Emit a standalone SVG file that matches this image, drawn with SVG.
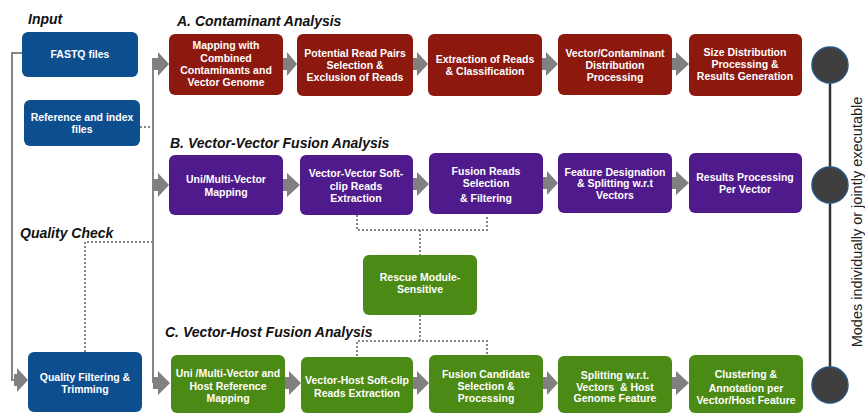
<svg xmlns="http://www.w3.org/2000/svg" width="865" height="413" viewBox="0 0 865 413">
<defs>
<style>
.blue{fill:#0d4e8f}
.red{fill:#8c180e}
.pur{fill:#4f1a8c}
.grn{fill:#4b8a14}
.bt{font-family:"Liberation Sans",Arial,sans-serif;font-weight:bold;font-size:10.5px;fill:#fff;text-anchor:middle}
.title{font-family:"Liberation Sans",Arial,sans-serif;font-weight:bold;font-style:italic;font-size:14px;fill:#111}
.ln{fill:none;stroke:#858585;stroke-width:2}
.dot{fill:none;stroke:#858585;stroke-width:2;stroke-dasharray:2 2}
.arr{fill:#808080}
.circ{fill:#3f3f3f;stroke:#2a5480;stroke-width:1.5}
</style>
</defs>
<rect width="865" height="413" fill="#fff"/>

<text class="title" x="28" y="24">Input</text>
<text class="title" x="177" y="26">A. Contaminant Analysis</text>
<text class="title" x="170" y="148">B. Vector-Vector Fusion Analysis</text>
<text class="title" x="20" y="238">Quality Check</text>
<text class="title" x="165" y="337">C. Vector-Host Fusion Analysis</text>

<g id="connectors">
<polyline class="ln" points="22,53 12,53 12,380 16,380"/>
<polygon class="arr" points="14,374 17,374 17,368 28,380 17,392 17,386 14,386"/>
<line class="ln" x1="153" y1="58" x2="153" y2="383"/>
<polygon class="arr" points="153,58 158,58 158,52 169,64 158,76 158,70 153,70"/>
<polygon class="arr" points="153,179 158,179 158,173 169,185 158,197 158,191 153,191"/>
<polygon class="arr" points="153,377 158,377 158,371 170,383 158,395 158,389 153,389"/>
<line class="dot" x1="140" y1="127" x2="153" y2="127"/>
<polyline class="dot" points="153,242 85,242 85,352"/>
<polygon class="arr" points="283,58 287,58 287,52 297,64 287,76 287,70 283,70"/>
<polygon class="arr" points="413,58 417,58 417,52 428,64 417,76 417,70 413,70"/>
<polygon class="arr" points="542,58 546,58 546,52 558,64 546,76 546,70 542,70"/>
<polygon class="arr" points="672,58 676,58 676,52 689,64 676,76 676,70 672,70"/>
<polygon class="arr" points="283,179 287,179 287,173 300,185 287,197 287,191 283,191"/>
<polygon class="arr" points="413,178 417,178 417,172 429,184 417,196 417,190 413,190"/>
<polygon class="arr" points="543,177 547,177 547,171 558,183 547,195 547,189 543,189"/>
<polygon class="arr" points="672,177 676,177 676,171 689,183 676,195 676,189 672,189"/>
<polygon class="arr" points="285,377 289,377 289,371 301,383 289,395 289,389 285,389"/>
<polygon class="arr" points="413,377 417,377 417,371 429,383 417,395 417,389 413,389"/>
<polygon class="arr" points="543,377 547,377 547,371 558,383 547,395 547,389 543,389"/>
<polygon class="arr" points="672,377 676,377 676,371 689,383 676,395 676,389 672,389"/>
<polyline class="dot" points="357,215 357,230 487,230 487,215"/>
<line class="dot" x1="420" y1="230" x2="420" y2="255"/>
<line class="dot" x1="420" y1="315" x2="420" y2="341"/>
<polyline class="dot" points="357,356 357,341 487,341 487,355"/>
<line x1="830" y1="65" x2="830" y2="385" stroke="#333" stroke-width="2.5"/>
</g>

<g id="fastq"><rect class="blue" x="22" y="32" width="116" height="45" rx="6"/><text class="bt" x="80" y="58">FASTQ files</text></g>
<g id="reference"><rect class="blue" x="24" y="100" width="116" height="46" rx="6"/><text class="bt" x="82" y="121">Reference and index</text><text class="bt" x="82" y="133">files</text></g>
<g id="quality"><rect class="blue" x="28" y="352" width="114" height="60" rx="6"/><text class="bt" x="85" y="381">Quality Filtering &amp;</text><text class="bt" x="85" y="393">Trimming</text></g>

<g id="a1"><rect class="red" x="169" y="34" width="114" height="61" rx="6"/><text class="bt" x="226" y="49">Mapping with</text><text class="bt" x="226" y="61.5">Combined</text><text class="bt" x="226" y="74">Contaminants and</text><text class="bt" x="226" y="86">Vector Genome</text></g>
<g id="a2"><rect class="red" x="297" y="34" width="116" height="62" rx="6"/><text class="bt" x="355" y="57">Potential Read Pairs</text><text class="bt" x="355" y="69">Selection &amp;</text><text class="bt" x="355" y="81">Exclusion of Reads</text></g>
<g id="a3"><rect class="red" x="428" y="34" width="114" height="62" rx="6"/><text class="bt" x="485" y="63">Extraction of Reads</text><text class="bt" x="485" y="75">&amp; Classification</text></g>
<g id="a4"><rect class="red" x="558" y="34" width="114" height="61" rx="6"/><text class="bt" x="615" y="57">Vector/Contaminant</text><text class="bt" x="615" y="69">Distribution</text><text class="bt" x="615" y="81">Processing</text></g>
<g id="a5"><rect class="red" x="689" y="34" width="113" height="62" rx="6"/><text class="bt" x="745" y="56">Size Distribution</text><text class="bt" x="745" y="68">Processing &amp;</text><text class="bt" x="745" y="80">Results Generation</text></g>

<g id="b1"><rect class="pur" x="169" y="155" width="114" height="60" rx="6"/><text class="bt" x="226" y="183">Uni/Multi-Vector</text><text class="bt" x="226" y="196">Mapping</text></g>
<g id="b2"><rect class="pur" x="300" y="155" width="113" height="60" rx="6"/><text class="bt" x="356" y="177">Vector-Vector Soft-</text><text class="bt" x="356" y="190">clip Reads</text><text class="bt" x="356" y="202">Extraction</text></g>
<g id="b3"><rect class="pur" x="429" y="153" width="114" height="61" rx="6"/><text class="bt" x="486" y="175">Fusion Reads</text><text class="bt" x="486" y="187">Selection</text><text class="bt" x="486" y="202">&amp; Filtering</text></g>
<g id="b4"><rect class="pur" x="558" y="153" width="114" height="60" rx="6"/><text class="bt" x="615" y="176">Feature Designation</text><text class="bt" x="615" y="187">&amp; Splitting w.r.t</text><text class="bt" x="615" y="199">Vectors</text></g>
<g id="b5"><rect class="pur" x="689" y="153" width="113" height="60" rx="6"/><text class="bt" x="745" y="181">Results Processing</text><text class="bt" x="745" y="193">Per Vector</text></g>

<g id="rescue"><rect class="grn" x="363" y="255" width="114" height="60" rx="6"/><text class="bt" x="420" y="281">Rescue Module-</text><text class="bt" x="420" y="293">Sensitive</text></g>

<g id="c1"><rect class="grn" x="171" y="355" width="114" height="58" rx="6"/><text class="bt" x="228" y="377">Uni /Multi-Vector and</text><text class="bt" x="228" y="390">Host Reference</text><text class="bt" x="228" y="402">Mapping</text></g>
<g id="c2"><rect class="grn" x="301" y="357" width="112" height="56" rx="6"/><text class="bt" x="357" y="384">Vector-Host Soft-clip</text><text class="bt" x="357" y="397">Reads Extraction</text></g>
<g id="c3"><rect class="grn" x="429" y="355" width="114" height="58" rx="6"/><text class="bt" x="486" y="378">Fusion Candidate</text><text class="bt" x="486" y="390">Selection &amp;</text><text class="bt" x="486" y="402">Processing</text></g>
<g id="c4"><rect class="grn" x="558" y="356" width="114" height="57" rx="6"/><text class="bt" x="615" y="379">Splitting w.r.t.</text><text class="bt" x="615" y="391" xml:space="preserve">Vectors  &amp; Host</text><text class="bt" x="615" y="402">Genome Feature</text></g>
<g id="c5"><rect class="grn" x="689" y="355" width="114" height="58" rx="6"/><text class="bt" x="746" y="378">Clustering &amp;</text><text class="bt" x="746" y="392">Annotation per</text><text class="bt" x="746" y="404">Vector/Host Feature</text></g>

<g id="modes">
<circle class="circ" cx="830" cy="65" r="18"/>
<circle class="circ" cx="830" cy="185" r="18"/>
<circle class="circ" cx="830" cy="385" r="18"/>
<text transform="translate(862,222) rotate(-90)" font-family="Liberation Sans,Arial,sans-serif" font-size="14.5" fill="#222" text-anchor="middle">Modes individually or jointly executable</text>
</g>
</svg>
